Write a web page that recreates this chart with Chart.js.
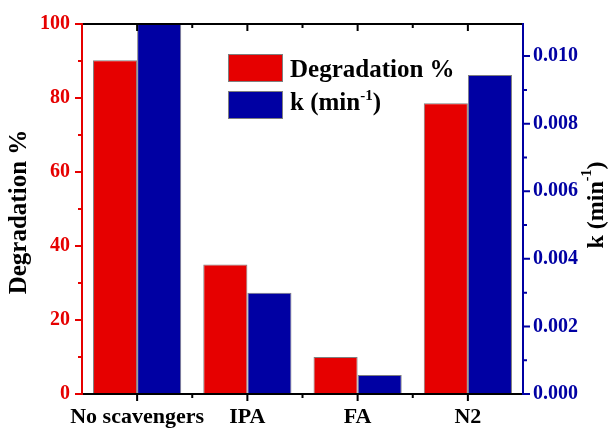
<!DOCTYPE html>
<html>
<head>
<meta charset="utf-8">
<script src="https://cdn.jsdelivr.net/npm/chart.js@4.4.1/dist/chart.umd.min.js"></script>
<style>
  html, body { margin: 0; padding: 0; background: #fff; }
  #wrap { width: 608px; height: 428px; }
</style>
</head>
<body>
<div id="wrap"><canvas id="chart" width="608" height="428"></canvas></div>
<script>
const categories = ['No scavengers', 'IPA', 'FA', 'N2']
const degradation = [90.2, 35, 10, 78.6]
const kValues = [0.0112, 0.003, 0.00056, 0.00944]
const leftTicks = [0, 20, 40, 60, 80, 100]
const rightTicks = [0, 0.002, 0.004, 0.006, 0.008, 0.010]

const RED = '#e60000'
const BLUE = '#0000a3'
const FONT = '"Liberation Serif", "Times New Roman", serif'

// frame, ticks, titles and legend drawn by hand, Origin style
const framePlugin = {
  id: 'frame',
  afterDraw(chart) {
    const ctx = chart.ctx
    const a = chart.chartArea
    const x = chart.scales.x
    const yl = chart.scales.y
    const yr = chart.scales.y1
    ctx.save()
    ctx.lineWidth = 2
    ctx.lineCap = 'square'

    // top + bottom
    ctx.strokeStyle = '#000'
    ctx.beginPath()
    ctx.moveTo(a.left, a.bottom); ctx.lineTo(a.right, a.bottom)
    ctx.moveTo(a.left, a.top); ctx.lineTo(a.right, a.top)
    for (let i = 0; i < categories.length; i++) {
      let cx = x.getPixelForValue(i)
      ctx.moveTo(cx, a.bottom); ctx.lineTo(cx, a.bottom + 6)
      ctx.moveTo(cx, a.top); ctx.lineTo(cx, a.top + 6)
      if (i > 0) {
        let bx = (cx + x.getPixelForValue(i - 1)) / 2
        ctx.moveTo(bx, a.bottom); ctx.lineTo(bx, a.bottom + 3)
        ctx.moveTo(bx, a.top); ctx.lineTo(bx, a.top + 3)
      }
    }
    ctx.stroke()

    // left axis
    ctx.strokeStyle = RED
    ctx.beginPath()
    ctx.moveTo(a.left, a.top); ctx.lineTo(a.left, a.bottom)
    for (let v = 0; v <= 100; v += 10) {
      let py = yl.getPixelForValue(v)
      let len = v % 20 === 0 ? 6 : 3
      ctx.moveTo(a.left, py); ctx.lineTo(a.left - len, py)
    }
    ctx.stroke()

    // right axis
    ctx.strokeStyle = BLUE
    ctx.beginPath()
    ctx.moveTo(a.right, a.top); ctx.lineTo(a.right, a.bottom)
    for (let i = 0; i <= 10; i++) {
      let py = yr.getPixelForValue(i * 0.001)
      let len = i % 2 === 0 ? 6 : 3
      ctx.moveTo(a.right, py); ctx.lineTo(a.right + len, py)
    }
    ctx.stroke()

    // axis titles
    ctx.fillStyle = '#000'
    ctx.font = 'bold 25px ' + FONT
    ctx.textAlign = 'center'
    ctx.textBaseline = 'middle'
    ctx.save()
    ctx.translate(20, 212)
    ctx.rotate(-Math.PI / 2)
    ctx.fillText('Degradation %', 0, 0)
    ctx.restore()

    ctx.save()
    ctx.translate(597, 205)
    ctx.rotate(-Math.PI / 2)
    drawK(ctx, 24, 'center')
    ctx.restore()

    // legend
    const items = chart.data.datasets
    const boxes = [54, 91]
    ctx.textAlign = 'left'
    ctx.textBaseline = 'alphabetic'
    items.forEach((ds, i) => {
      ctx.fillStyle = ds.backgroundColor
      ctx.fillRect(228, boxes[i], 55, 28)
      ctx.strokeStyle = '#7f7f7f'
      ctx.lineWidth = 1
      ctx.strokeRect(228.5, boxes[i] + 0.5, 54, 27)
    })
    ctx.fillStyle = '#000'
    ctx.font = 'bold 25px ' + FONT
    ctx.fillText('Degradation %', 290, 77)
    ctx.save()
    ctx.translate(290, 110)
    drawK(ctx, 25, 'left')
    ctx.restore()

    ctx.restore()
  }
}

function drawK(ctx, size, align) {
  const big = 'bold ' + size + 'px ' + FONT
  const small = 'bold ' + Math.round(size * 0.6) + 'px ' + FONT
  ctx.font = big
  let w1 = ctx.measureText('k (min').width
  let w3 = ctx.measureText(')').width
  ctx.font = small
  let w2 = ctx.measureText('-1').width
  let total = w1 + w2 + w3
  let x0 = align === 'center' ? -total / 2 : 0
  ctx.textAlign = 'left'
  ctx.textBaseline = align === 'center' ? 'middle' : 'alphabetic'
  ctx.font = big
  ctx.fillText('k (min', x0, 0)
  ctx.font = small
  ctx.fillText('-1', x0 + w1, -size * 0.4)
  ctx.font = big
  ctx.fillText(')', x0 + w1 + w2, 0)
}

const chart = new Chart(document.getElementById('chart'), {
  type: 'bar',
  data: {
    labels: categories,
    datasets: [
      {
        label: 'Degradation %',
        data: degradation,
        yAxisID: 'y',
        backgroundColor: RED,
        borderColor: '#7f7f7f',
        borderWidth: 1,
        categoryPercentage: 0.8,
        barPercentage: 1.0
      },
      {
        label: 'k (min-1)',
        data: kValues,
        yAxisID: 'y1',
        backgroundColor: BLUE,
        borderColor: '#7f7f7f',
        borderWidth: 1,
        categoryPercentage: 0.8,
        barPercentage: 1.0
      }
    ]
  },
  options: {
    responsive: false,
    animation: false,
    layout: { padding: { top: 21, left: 0, right: 0, bottom: 0 } },
    plugins: {
      legend: { display: false },
      tooltip: { enabled: false }
    },
    scales: {
      x: {
        grid: { display: false, drawTicks: false },
        border: { display: false },
        ticks: {
          color: '#000',
          font: { family: FONT, size: 22, weight: 'bold' },
          padding: 10,
          autoSkip: false,
          maxRotation: 0
        },
        afterFit: s => { s.height = 34 }
      },
      y: {
        position: 'left',
        min: 0,
        max: 100,
        grid: { display: false, drawTicks: false },
        border: { display: false },
        afterBuildTicks: s => { s.ticks = leftTicks.map(v => ({ value: v })) },
        ticks: {
          color: RED,
          font: { family: FONT, size: 20, weight: 'bold' },
          padding: 12
        },
        afterFit: s => { s.width = 82 }
      },
      y1: {
        position: 'right',
        min: 0,
        max: 0.01095,
        grid: { display: false, drawTicks: false },
        border: { display: false },
        afterBuildTicks: s => { s.ticks = rightTicks.map(v => ({ value: v })) },
        ticks: {
          color: BLUE,
          font: { family: FONT, size: 20, weight: 'bold' },
          padding: 10,
          callback: v => v.toFixed(3)
        },
        afterFit: s => { s.width = 85 }
      }
    }
  },
  plugins: [framePlugin]
})
</script>
</body>
</html>
